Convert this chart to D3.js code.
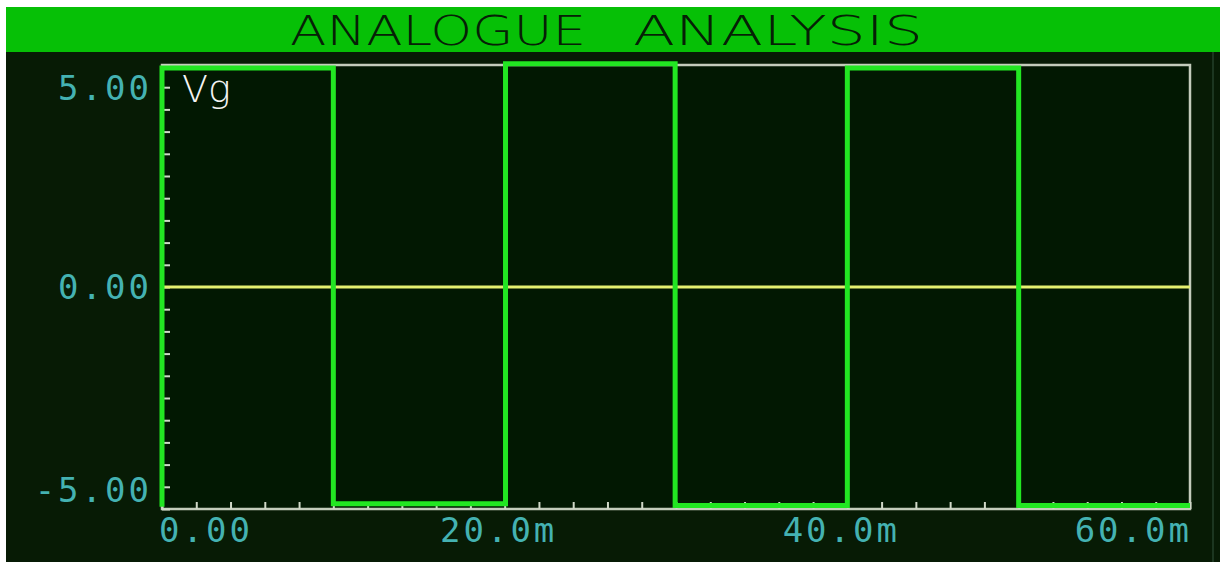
<!DOCTYPE html>
<html>
<head>
<meta charset="utf-8">
<script src="https://cdn.jsdelivr.net/npm/d3@7"></script>
<style>
  html, body { margin: 0; padding: 0; background: #ffffff; }
  svg { display: block; }
</style>
</head>
<body>
<svg id="chart" width="1220" height="562"></svg>
<script>
// chart data
const title = "ANALOGUE ANALYSIS";
const traceName = "Vg";
const edgeTimes = [0, 10.0, 20.05, 29.95, 40.0, 50.0, 60.0];   // ms, segment boundaries
const levels = [4.93, -4.88, 5.03, -4.92, 4.93, -4.92];        // volts, one per segment
const startLevel = -4.95;
const xMajor = [0, 20, 40, 60];
const xLabels = ["0.00", "20.0m", "40.0m", "60.0m"];
const yMajor = [5, 0, -5];
const yLabels = ["5.00", "0.00", "-5.00"];

const svg = d3.select("#chart");
const W = 1220, H = 562;
const font = "'DejaVu Sans', 'Liberation Sans', sans-serif";
const mono = "'DejaVu Sans Mono', 'Liberation Mono', monospace";

// frame
svg.append("rect").attr("x", 6).attr("y", 7).attr("width", W - 6).attr("height", H - 7)
    .attr("fill", "#071b05");
svg.append("rect").attr("x", 6).attr("y", 7).attr("width", W - 6).attr("height", 45)
    .attr("fill", "#06c006");
svg.append("line").attr("x1", 1213).attr("x2", 1213).attr("y1", 52).attr("y2", H)
    .attr("stroke", "#24402a").attr("stroke-width", 1.5);

// title, one word per span so the gap between them stays wide
const titleBox = [[290, 296], [633, 290]];
svg.append("g").selectAll("text").data(title.split(" ")).join("text")
    .attr("x", (d, i) => titleBox[i][0]).attr("y", 45)
    .attr("textLength", (d, i) => titleBox[i][1]).attr("lengthAdjust", "spacingAndGlyphs")
    .style("font-family", font).style("font-weight", 200).style("font-size", "41px")
    .attr("fill", "#062006")
    .text(d => d);

const x = d3.scaleLinear().domain([0, 60]).range([162, 1190]);
const y = d3.scaleLinear().domain([-5, 5]).range([509, 65]);

// plot area
svg.append("rect")
    .attr("x", x(0)).attr("y", y(5))
    .attr("width", x(60) - x(0)).attr("height", y(-5) - y(5))
    .attr("fill", "#021802")
    .attr("stroke", "#c4ccbc").attr("stroke-width", 2.5);

// minor ticks
const xt = svg.append("g").attr("transform", `translate(0,${y(-5)})`)
    .call(d3.axisBottom(x).tickValues(d3.range(0, 61, 2)).tickSize(-7).tickFormat(""));
const yt = svg.append("g").attr("transform", `translate(${x(0)},0)`)
    .call(d3.axisLeft(y).tickValues(d3.range(-5, 5.01, 0.5)).tickSize(-8).tickFormat(""));
[xt, yt].forEach(g => {
    g.select(".domain").remove();
    g.selectAll(".tick line").attr("stroke", "#d0d8c8").attr("stroke-width", 2);
});

// zero line
svg.append("line")
    .attr("x1", x(0)).attr("x2", x(60)).attr("y1", y(0)).attr("y2", y(0))
    .attr("stroke", "#e4f070").attr("stroke-width", 3);

// trace
const pts = [[0, startLevel]];
levels.forEach((v, i) => {
    pts.push([edgeTimes[i], v]);
    pts.push([edgeTimes[i + 1], v]);
});
svg.append("path")
    .datum(pts)
    .attr("d", d3.line().x(d => x(d[0])).y(d => y(d[1])))
    .attr("fill", "none")
    .attr("stroke", "#22e622").attr("stroke-width", 5)
    .attr("stroke-linejoin", "miter");

// tick labels
const labStyle = s => s.style("font-family", mono)
    .style("font-size", "34px").attr("fill", "#44b2b2").style("letter-spacing", "3px");

svg.append("g").selectAll("text").data(yMajor).join("text")
    .attr("x", 152)
    .attr("y", (d, i) => i === 0 ? 100 : i === yMajor.length - 1 ? 502 : y(d) + 12)
    .attr("text-anchor", "end")
    .call(labStyle)
    .text((d, i) => yLabels[i]);

svg.append("g").selectAll("text").data(xMajor).join("text")
    .attr("x", (d, i) => i === 0 ? x(d) - 3 : i === xMajor.length - 1 ? x(d) + 2 : x(d) - 6)
    .attr("y", 542)
    .attr("text-anchor", (d, i) => i === 0 ? "start" : i === xMajor.length - 1 ? "end" : "middle")
    .call(labStyle)
    .text((d, i) => xLabels[i]);

// trace name
svg.append("text")
    .attr("x", 182).attr("y", 102)
    .style("font-family", font).style("font-weight", 200).style("font-size", "38px")
    .attr("fill", "#f4f4f4")
    .text(traceName);
</script>
</body>
</html>
